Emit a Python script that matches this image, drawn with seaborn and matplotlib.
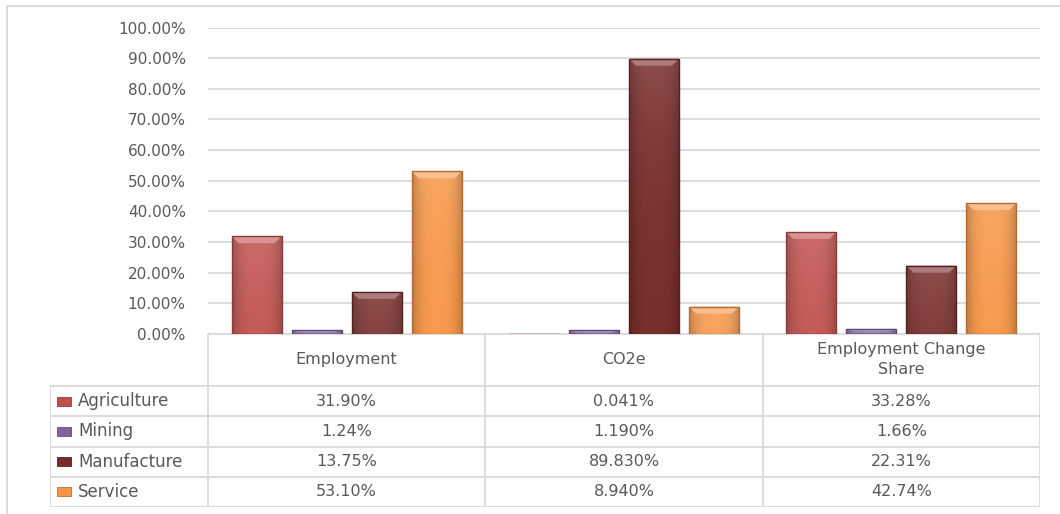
import numpy as np
import pandas as pd
import matplotlib
matplotlib.use("Agg")
import matplotlib.pyplot as plt
import seaborn as sns
from matplotlib.patches import Rectangle, Polygon
from matplotlib.colors import to_rgb
from matplotlib.ticker import FuncFormatter

# ---- data -------------------------------------------------------------
metrics = ["Employment", "CO2e", "Employment Change\nShare"]
sectors = ["Agriculture", "Mining", "Manufacture", "Service"]
agriculture = [31.90, 0.041, 33.28]
mining = [1.24, 1.190, 1.66]
manufacture = [13.75, 89.830, 22.31]
service = [53.10, 8.940, 42.74]
decimals = [2, 3, 2]          # number format used in each table column
y_ticks = [0, 10, 20, 30, 40, 50, 60, 70, 80, 90, 100]

colors = ["#C0504D", "#8064A2", "#772C2A", "#F79646"]
series = [agriculture, mining, manufacture, service]

df = pd.DataFrame(
    [(m, s, v[i]) for s, v in zip(sectors, series) for i, m in enumerate(metrics)],
    columns=["metric", "sector", "value"],
)

# ---- figure setup -----------------------------------------------------
sns.set_style("white")
plt.rcParams["font.family"] = ["DejaVu Sans"]
TXT = "#595959"
GRID = "#D9D9D9"

W, H = 1060, 514
fig = plt.figure(figsize=(W / 100, H / 100), dpi=100)


def fx(px):
    return px / W


def fy(py):
    return 1 - py / H


PLOT_L, PLOT_R, PLOT_T, PLOT_B = 208, 1040, 27.5, 334
ax = fig.add_axes([fx(PLOT_L), fy(PLOT_B), fx(PLOT_R) - fx(PLOT_L), (PLOT_B - PLOT_T) / H])

sns.barplot(
    data=df, x="metric", y="value", hue="sector",
    order=metrics, hue_order=sectors, palette=colors,
    width=0.866, gap=0.167, errorbar=None, saturation=1,
    legend=False, ax=ax, linewidth=0,
)

ax.set_xlim(-0.5, 2.5)
ax.set_ylim(0, 100)
ax.set_yticks(y_ticks)
ax.yaxis.set_major_formatter(FuncFormatter(lambda v, _: f"{v:.2f}%"))
ax.tick_params(axis="y", length=0, pad=16, labelsize=11, labelcolor=TXT)
ax.tick_params(axis="x", bottom=False, labelbottom=False)
ax.set_xlabel("")
ax.set_ylabel("")
ax.yaxis.grid(True, color=GRID, lw=1.3)
ax.set_axisbelow(True)
for sp in ax.spines.values():
    sp.set_visible(False)

# ---- bevelled bar look --------------------------------------------------
px_x = (PLOT_R - PLOT_L) / 3.0            # pixels per category unit
px_y = (PLOT_B - PLOT_T) / 100.0          # pixels per percent
prof_x = np.linspace(-1, 1, 64)
side = 1 - 0.22 * np.abs(prof_x) ** 3     # darker towards the sides

for bar in list(ax.patches):
    x0, y0 = bar.get_x(), bar.get_y()
    w, h = bar.get_width(), bar.get_height()
    if h <= 0:
        continue
    base = np.array(to_rgb(bar.get_facecolor()))
    hp = max(h * px_y, 2)
    # vertical: a little lighter near the top, fading over ~120 px
    ny = 64
    t = np.linspace(1, 0, ny)               # 1 at top row, 0 at bottom row
    dist_px = (1 - t) * hp                  # distance from top in pixels
    lift = 0.16 * np.exp(-dist_px / 110.0)
    rows = base[None, :] + (1 - base[None, :]) * lift[:, None]
    img = np.clip(rows[:, None, :] * side[None, :, None], 0, 1)
    im = ax.imshow(img, extent=(x0, x0 + w, y0, y0 + h), aspect="auto",
                   zorder=bar.get_zorder() + 0.1, interpolation="bilinear")
    im.set_clip_path(bar)
    # lighter bevel on top
    bh = min(7 / px_y, h * 0.5)
    bw = 7 / px_x
    top = y0 + h
    bev = Polygon([(x0, top), (x0 + w, top), (x0 + w - bw, top - bh), (x0 + bw, top - bh)],
                  closed=True, facecolor=base + (1 - base) * 0.38, edgecolor="none",
                  zorder=bar.get_zorder() + 0.2)
    ax.add_patch(bev)
    ax.add_patch(Rectangle((x0, y0), w, h, fill=False, edgecolor=base * 0.72,
                           lw=1.0, zorder=bar.get_zorder() + 0.3))

# ---- data table below the bars ----------------------------------------
TBL_L, TBL_B = 50, 507
rows_y = [386, 416.3, 446.6, 476.8, 507]
tax = fig.add_axes([fx(TBL_L), fy(TBL_B), fx(PLOT_R) - fx(TBL_L), (TBL_B - PLOT_B) / H])
x_left = -0.5 - (PLOT_L - TBL_L) / px_x
tax.set_xlim(x_left, 2.5)
tax.set_ylim(TBL_B, PLOT_B)
tax.axis("off")

lk = dict(color=GRID, lw=1.3, solid_capstyle="projecting")
tax.plot([-0.5, 2.5], [PLOT_B, PLOT_B], **lk)
for yy in rows_y:
    tax.plot([x_left, 2.5], [yy, yy], **lk)
tax.plot([x_left, x_left], [rows_y[0], TBL_B], **lk)
for xx in [-0.5, 0.5, 1.5, 2.5]:
    tax.plot([xx, xx], [PLOT_B, TBL_B], **lk)

for i, m in enumerate(metrics):
    tax.text(i, (PLOT_B + rows_y[0]) / 2 - 0.5, m, ha="center", va="center",
             fontsize=11.5, color=TXT, linespacing=1.4)

for r, (name, vals, col) in enumerate(zip(sectors, series, colors)):
    yc = (rows_y[r] + rows_y[r + 1]) / 2
    base = np.array(to_rgb(col))
    tax.add_patch(Rectangle((x_left + 7 / px_x, yc - 4.5), 14 / px_x, 9,
                            facecolor=base, edgecolor=base * 0.75, lw=0.6))
    tax.text(x_left + 28 / px_x, yc, name, ha="left", va="center",
             fontsize=12, color=TXT)
    for i, v in enumerate(vals):
        tax.text(i, yc, f"{v:.{decimals[i]}f}%", ha="center", va="center",
                 fontsize=11.5, color=TXT)

# ---- chart area border ----------------------------------------------------
fig.add_artist(Rectangle((fx(7), fy(530)), fx(1080) - fx(7), (530 - 6) / H,
                         transform=fig.transFigure, fill=False,
                         edgecolor=GRID, lw=1.3))

fig.savefig("out.png", dpi=100)
